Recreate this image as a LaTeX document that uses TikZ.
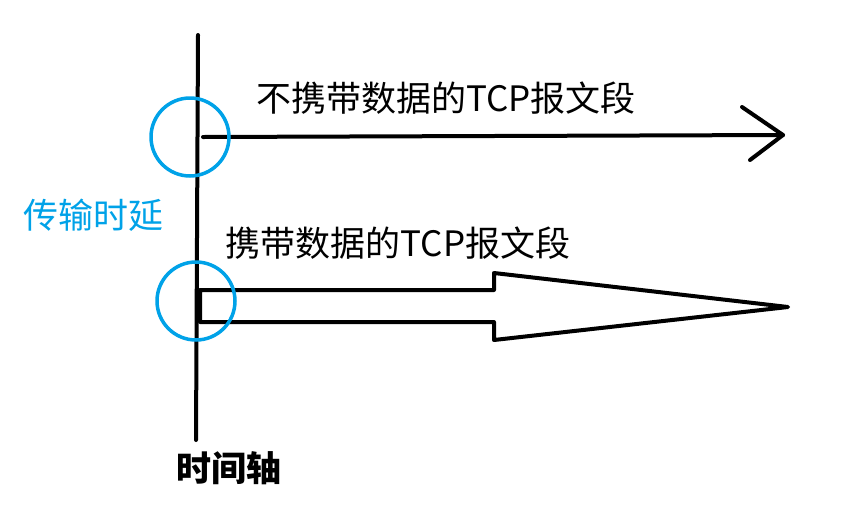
\documentclass[tikz,border=0pt]{standalone}
\usepackage{fontspec}
\setmainfont{Noto Sans CJK SC}
\usepackage{xcolor}
\usetikzlibrary{positioning}
\definecolor{delay}{HTML}{00A2E8}

\begin{document}
\begin{tikzpicture}[
  x=1pt, y=-1pt,
  axis/.style={line width=4pt, draw=black, line cap=round, line join=round},
  delaycircle/.style={circle, draw=delay, line width=3.5pt, minimum size=78pt, inner sep=0pt},
  seglabel/.style={font=\fontsize{35}{42}\selectfont, inner sep=0pt}
]
\useasboundingbox (0,0) rectangle (866,504);

% time axis
\coordinate (axistop) at (198,35);
\coordinate (axisbottom) at (196,440);
\draw[axis] (axistop) -- (axisbottom);
\node[font=\fontsize{35}{42}\selectfont\bfseries, inner sep=0pt] (axislabel) at (229,468) {时间轴};

% segment without data
\coordinate (emptystart) at (203,137);
\coordinate (emptytip) at (783,135);
\coordinate (headtop) at (742,107);
\coordinate (headbottom) at (750,160);
\draw[axis] (emptystart) -- (emptytip);
\draw[axis] (headtop) -- (emptytip) -- (headbottom);
\node[seglabel] (emptylabel) at (446,98) {不携带数据的TCP报文段};

% segment with data
\coordinate (datatip) at (788,307);
\draw[axis] (200,290) -- (494,290) -- (494,273) -- (datatip)
  -- (494,340) -- (494,322) -- (200,322) -- cycle;
\node[seglabel] (datalabel) at (398,243) {携带数据的TCP报文段};

% transmission delay
\node[delaycircle] (emptycircle) at (190,137) {};
\node[delaycircle] (datacircle) at (196,301) {};
\node[seglabel, text=delay] (delaylabel) at (93,215) {传输时延};
\end{tikzpicture}
\end{document}
